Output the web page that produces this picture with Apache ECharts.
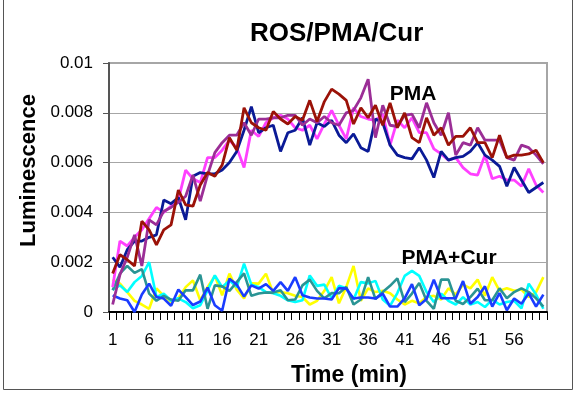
<!DOCTYPE html>
<html>
<head>
<meta charset="utf-8">
<script src="https://cdn.jsdelivr.net/npm/echarts@6/dist/echarts.min.js"></script>
<style>
html,body{margin:0;padding:0;background:#fff;}
#chart{width:576px;height:394px;}
</style>
</head>
<body>
<div id="chart"></div>
<script>
var categories = ['1','2','3','4','5','6','7','8','9','10','11','12','13','14','15','16','17','18','19','20',
'21','22','23','24','25','26','27','28','29','30','31','32','33','34','35','36','37','38','39','40',
'41','42','43','44','45','46','47','48','49','50','51','52','53','54','55','56','57','58','59','60'];

var pmaNavy = [0.0022,0.0018,0.0025,0.00285,0.00285,0.0030,0.0031,0.0045,0.00435,0.0046,
0.0037,0.00545,0.0056,0.00555,0.00555,0.0057,0.0060,0.00645,0.0073,0.00825,
0.0072,0.0074,0.0075,0.00645,0.0072,0.0073,0.0078,0.0067,0.0076,0.00745,
0.0077,0.0071,0.0068,0.00715,0.0066,0.00645,0.00775,0.0076,0.0067,0.0063,
0.0062,0.00615,0.0066,0.0061,0.0054,0.00645,0.0061,0.0062,0.00625,0.00645,
0.0068,0.0063,0.0061,0.00585,0.00505,0.0058,0.0053,0.0048,0.0050,0.0052];

var pmaRed = [0.00155,0.0023,0.0021,0.00185,0.00365,0.0033,0.0027,0.0033,0.0035,0.0049,
0.0043,0.00425,0.0051,0.0056,0.00545,0.0059,0.0070,0.0065,0.0082,0.0076,
0.0074,0.0073,0.00805,0.00775,0.00755,0.00785,0.0077,0.0085,0.00765,0.00845,
0.00895,0.00875,0.0085,0.00755,0.0082,0.0078,0.0083,0.0075,0.0084,0.0074,
0.0080,0.0070,0.0068,0.0078,0.0071,0.0074,0.0067,0.00705,0.00705,0.0074,
0.0068,0.0068,0.0062,0.0071,0.0062,0.0063,0.0063,0.00635,0.0065,0.0060];

var pmaPurple = [0.0003,0.0015,0.0022,0.0031,0.00185,0.0037,0.0035,0.00405,0.0042,0.0044,
0.00465,0.0055,0.00445,0.0055,0.0064,0.0068,0.0071,0.0071,0.0076,0.0071,
0.00775,0.00775,0.0078,0.0078,0.0079,0.0079,0.0075,0.00775,0.0076,0.00785,
0.0076,0.0075,0.0080,0.0081,0.0086,0.00935,0.0070,0.0083,0.0075,0.00745,
0.0079,0.00795,0.0074,0.0084,0.0076,0.0071,0.0080,0.0063,0.0068,0.0067,
0.0074,0.0069,0.0069,0.0069,0.0062,0.0061,0.0067,0.0066,0.0063,0.00595];

var pmaPink = [0.0010,0.00285,0.00265,0.0030,0.0033,0.00375,0.0042,0.0040,0.00425,0.0045,
0.0057,0.00535,0.0052,0.0062,0.0062,0.0065,0.0069,0.0066,0.0058,0.0073,
0.00705,0.0076,0.0078,0.0079,0.00775,0.0074,0.0073,0.0075,0.00695,0.00755,
0.0081,0.0075,0.00695,0.0082,0.00785,0.00775,0.0077,0.00795,0.0067,0.0077,
0.0074,0.0078,0.0072,0.0072,0.00655,0.00635,0.0061,0.0062,0.0058,0.00555,
0.0055,0.0063,0.00535,0.00545,0.0053,0.0053,0.00505,0.00575,0.0051,0.0048];

var curYellow = [0.0013,0.00114,0.0008,0.00045,0.0003,0.00013,0.00095,0.00065,0.0004,0.00055,
0.0010,0.00127,0.00047,0.0010,0.00145,0.00067,0.00154,0.0009,0.00055,0.00115,
0.00114,0.00154,0.00075,0.0008,0.00075,0.00065,0.0006,0.0003,0.00045,0.00085,
0.0014,0.00035,0.0010,0.00185,0.00045,0.00095,0.0008,0.00085,0.00075,0.0005,
0.0003,0.00045,0.00035,0.0006,0.00065,0.0005,0.00095,0.0007,0.0011,0.00095,
0.0013,0.00065,0.0014,0.00085,0.00095,0.00085,0.0009,0.0006,0.0008,0.0014];

var curCyan = [0.0009,0.00107,0.0008,0.0012,0.00145,0.0020,0.0006,0.00074,0.00045,0.00055,
0.0004,0.00015,0.00027,0.00087,0.00147,0.0010,0.00127,0.0010,0.00194,0.0011,
0.0010,0.0008,0.00075,0.00065,0.00047,0.0004,0.00047,0.00147,0.00105,0.0011,
0.00055,0.00105,0.00095,0.0005,0.0012,0.00115,0.00125,0.0005,0.00025,0.00076,
0.00145,0.00165,0.00145,0.0008,0.0004,0.00074,0.00045,0.0003,0.0006,0.0003,
0.0004,0.0002,0.0005,0.0003,0.0004,0.00045,0.00015,0.00114,0.0007,0.00013];

var curTeal = [0.00087,0.00154,0.00185,0.00157,0.00172,0.00074,0.00045,0.00065,0.0005,0.00045,
0.00087,0.00087,0.0015,0.00013,0.00107,0.00103,0.00085,0.0012,0.00155,0.00065,
0.00074,0.00078,0.00078,0.00087,0.00047,0.0005,0.00107,0.0013,0.00085,0.00055,
0.00076,0.00075,0.0010,0.0003,0.0005,0.0014,0.00052,0.0008,0.00105,0.00135,
0.0004,0.00074,0.00117,0.00045,0.00013,0.0013,0.0013,0.00045,0.00032,0.0006,
0.00094,0.00047,0.00047,0.00095,0.00055,0.0008,0.00095,0.0008,0.00055,0.00022];

var curBlue = [0.00067,0.00054,0.00047,0.0,0.0007,0.00114,0.0006,0.00054,0.00025,0.0009,
0.0006,0.00028,0.00042,0.00098,0.00027,0.00005,0.00134,0.0011,0.00062,0.00107,
0.00094,0.00112,0.00085,0.0012,0.00085,0.0014,0.00067,0.00058,0.00054,0.00054,
0.0005,0.00096,0.00094,0.00054,0.00058,0.00058,0.00054,0.00074,0.00022,0.00022,
0.00055,0.00112,0.00027,0.00052,0.0013,0.00055,0.00055,0.00055,0.00124,0.00033,
0.0006,0.00103,0.00022,0.00076,0.00007,0.00054,0.00033,0.00075,0.00022,0.0007];

var yTicks = [0, 0.002, 0.004, 0.006, 0.008, 0.01];

var FONT = 'Liberation Sans, Arial, sans-serif';

function line(name, data, color, w) {
  return {
    name: name, type: 'line', data: data, showSymbol: false, symbol: 'none',
    lineStyle: {color: color, width: w}, itemStyle: {color: color},
    emphasis: {disabled: true}, z: 3
  };
}

var chart = echarts.init(document.getElementById('chart'), null, {renderer: 'canvas'});
chart.setOption({
  animation: false,
  backgroundColor: '#ffffff',
  textStyle: {fontFamily: FONT},
  title: {
    text: 'ROS/PMA/Cur', left: 245, top: 16,
    textStyle: {fontSize: 26, fontWeight: 'bold', color: '#000', fontFamily: FONT}
  },
  grid: {left: 109, right: 29, top: 63, bottom: 82, show: true, borderColor: '#a6a6a6', borderWidth: 2, backgroundColor: 'transparent'},
  xAxis: {
    type: 'category', data: categories, boundaryGap: true,
    axisLine: {lineStyle: {color: '#000', width: 2}},
    axisTick: {show: true, interval: 0, length: 8, lineStyle: {color: '#000', width: 1}},
    axisLabel: {interval: 4, fontSize: 17, color: '#000', margin: 20, fontFamily: FONT},
    name: 'Time (min)', nameLocation: 'middle', nameGap: 52,
    nameTextStyle: {fontSize: 23, fontWeight: 'bold', color: '#000', fontFamily: FONT, padding: [0, 0, 0, 42]}
  },
  yAxis: {
    type: 'value', min: yTicks[0], max: yTicks[yTicks.length - 1], interval: 0.002,
    axisLine: {show: true, lineStyle: {color: '#555', width: 2}},
    axisTick: {show: true, length: 6, lineStyle: {color: '#555', width: 1}},
    splitLine: {show: true, lineStyle: {color: '#a6a6a6', width: 1}},
    axisLabel: {fontSize: 17, color: '#000', margin: 16, fontFamily: FONT},
    name: 'Luminescence', nameLocation: 'middle', nameGap: 68,
    nameTextStyle: {fontSize: 22, fontWeight: 'bold', color: '#000', fontFamily: FONT, padding: [0, 0, 0, 34]}
  },
  graphic: [
    {type: 'rect', shape: {x: 3.5, y: -2, width: 569, height: 391.5}, style: {fill: 'none', stroke: '#555', lineWidth: 1}, silent: true},
    {type: 'text', x: 413, y: 94, style: {text: 'PMA', fontSize: 21, fontWeight: 'bold', fill: '#000', fontFamily: FONT, align: 'center', verticalAlign: 'middle'}, z: 10},
    {type: 'text', x: 449, y: 258, style: {text: 'PMA+Cur', fontSize: 21, fontWeight: 'bold', fill: '#000', fontFamily: FONT, align: 'center', verticalAlign: 'middle'}, z: 10}
  ],
  series: [
    line('PMA+Cur 1', curYellow, '#ffff00', 2.6),
    line('PMA+Cur 2', curCyan, '#00ffff', 2.6),
    line('PMA+Cur 3', curTeal, '#2a9494', 2.6),
    line('PMA+Cur 4', curBlue, '#1a3cff', 2.6),
    line('PMA 4', pmaPink, '#ff40ff', 2.8),
    line('PMA 1', pmaNavy, '#0a1a96', 2.8),
    line('PMA 3', pmaPurple, '#9b2e96', 2.8),
    line('PMA 2', pmaRed, '#9b1208', 2.8)
  ]
});
</script>
</body>
</html>
